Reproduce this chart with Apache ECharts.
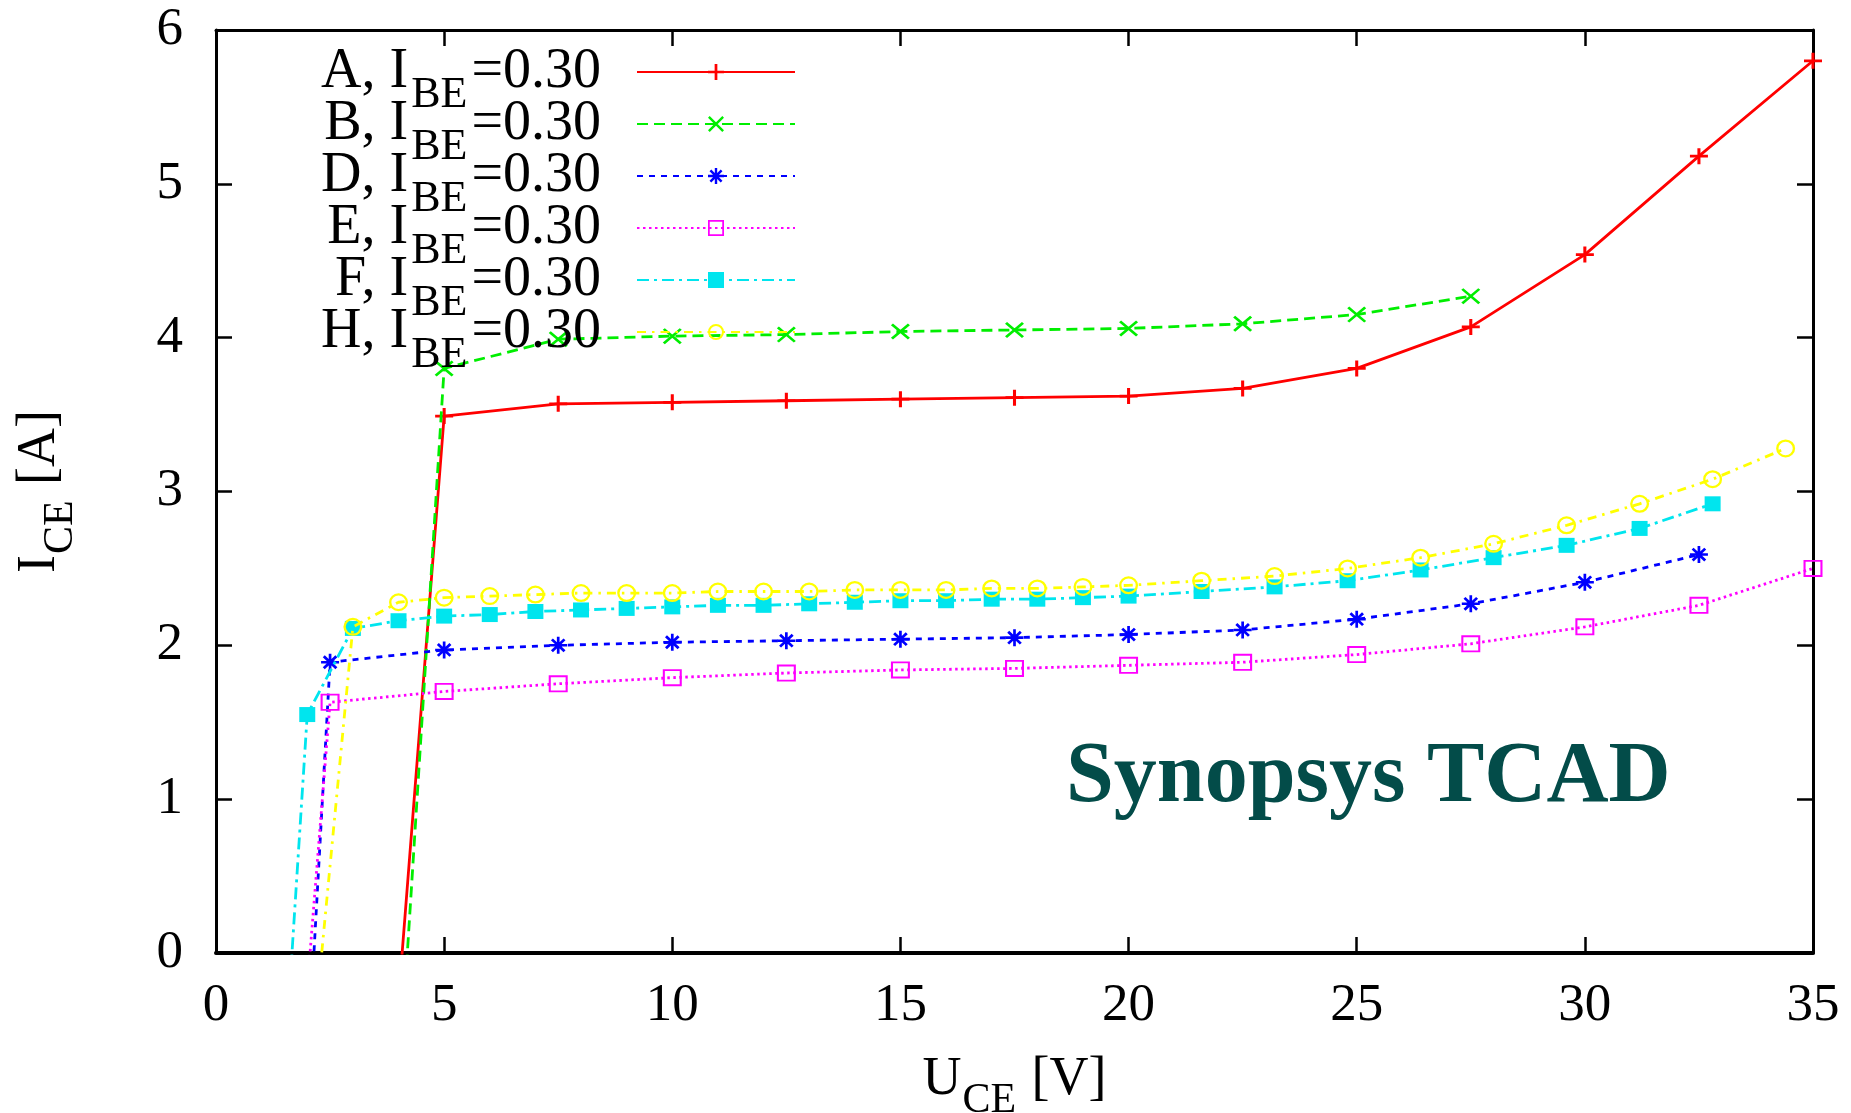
<!DOCTYPE html>
<html><head><meta charset="utf-8">
<script src="https://cdn.jsdelivr.net/npm/echarts@6/dist/echarts.min.js"></script>
<style>html,body{margin:0;padding:0;background:#fff}#c{width:1851px;height:1113px}</style>
</head><body><div id="c"></div>
<script>
const xTicks = [0, 5, 10, 15, 20, 25, 30, 35];
const yTicks = [0, 1, 2, 3, 4, 5, 6];
const seriesNames = ['A', 'B', 'D', 'E', 'F', 'H'];
const ibeLabel = '0.30';

const aX = [4.0, 5, 7.5, 10, 12.5, 15, 17.5, 20, 22.5, 25, 27.5, 30, 32.5, 35];
const aY = [-0.3, 3.49, 3.57, 3.58, 3.59, 3.60, 3.61, 3.62, 3.67, 3.80, 4.07, 4.54, 5.18, 5.80];
const bX = [4.13, 5, 7.5, 10, 12.5, 15, 17.5, 20, 22.5, 25, 27.5];
const bY = [-0.3, 3.80, 3.99, 4.01, 4.02, 4.04, 4.05, 4.06, 4.09, 4.15, 4.27];
const dX = [2.09, 2.5, 5, 7.5, 10, 12.5, 15, 17.5, 20, 22.5, 25, 27.5, 30, 32.5];
const dY = [-0.3, 1.89, 1.97, 2.00, 2.02, 2.03, 2.04, 2.05, 2.07, 2.10, 2.17, 2.27, 2.41, 2.59];
const eX = [1.98, 2.5, 5, 7.5, 10, 12.5, 15, 17.5, 20, 22.5, 25, 27.5, 30, 32.5, 35];
const eY = [-0.3, 1.63, 1.70, 1.75, 1.79, 1.82, 1.84, 1.85, 1.87, 1.89, 1.94, 2.01, 2.12, 2.26, 2.50];
const fX = [1.6, 2, 3, 4, 5, 6, 7, 8, 9, 10, 11, 12, 13, 14, 15, 16, 17, 18, 19, 20, 21.6, 23.2, 24.8, 26.4, 28, 29.6, 31.2, 32.8];
const fY = [-0.3, 1.55, 2.11, 2.16, 2.19, 2.20, 2.22, 2.23, 2.24, 2.25, 2.26, 2.26, 2.27, 2.28, 2.29, 2.29, 2.30, 2.30, 2.31, 2.32, 2.35, 2.38, 2.42, 2.49, 2.57, 2.65, 2.76, 2.92];
const hX = [2.22, 3, 4, 5, 6, 7, 8, 9, 10, 11, 12, 13, 14, 15, 16, 17, 18, 19, 20, 21.6, 23.2, 24.8, 26.4, 28, 29.6, 31.2, 32.8, 34.4];
const hY = [-0.3, 2.12, 2.28, 2.31, 2.32, 2.33, 2.34, 2.34, 2.34, 2.35, 2.35, 2.35, 2.36, 2.36, 2.36, 2.37, 2.37, 2.38, 2.39, 2.42, 2.45, 2.50, 2.57, 2.66, 2.78, 2.92, 3.08, 3.28];

const FONT = '"Liberation Serif", "Times New Roman", serif';

const SYM_PLUS = 'path://M-1.7,-10 L1.7,-10 L1.7,-1.7 L10,-1.7 L10,1.7 L1.7,1.7 L1.7,10 L-1.7,10 L-1.7,1.7 L-10,1.7 L-10,-1.7 L-1.7,-1.7 Z';
const SYM_CROSS = 'path://M-8.8,-11.2 L11.2,8.8 L8.8,11.2 L-11.2,-8.8 Z M-11.2,8.8 L8.8,-11.2 L11.2,-8.8 L-8.8,11.2 Z';
const SYM_STAR = 'path://M-1.5,-10 L1.5,-10 L1.5,-1.5 L10,-1.5 L10,1.5 L1.5,1.5 L1.5,10 L-1.5,10 L-1.5,1.5 L-10,1.5 L-10,-1.5 L-1.5,-1.5 Z M-5.9,-8.1 L8.1,5.9 L5.9,8.1 L-8.1,-5.9 Z M-8.1,5.9 L5.9,-8.1 L8.1,-5.9 L-5.9,8.1 Z';
const SYM_OSQ = 'path://M-10,-10 L10,-10 L10,10 L-10,10 Z M-7.8,-7.8 L-7.8,7.8 L7.8,7.8 L7.8,-7.8 Z';
const SYM_RING = 'path://M0,-10 A10,10 0 1,1 0,10 A10,10 0 1,1 0,-10 Z M0,-7.5 A7.5,7.5 0 1,0 0,7.5 A7.5,7.5 0 1,0 0,-7.5 Z';

function pts(xs, ys) { return xs.map((x, i) => [x, ys[i]]); }

const defs = [
  { x: aX, y: aY, color: '#ff0000', dash: 'solid', sym: SYM_PLUS, size: [18, 16] },
  { x: bX, y: bY, color: '#00ee00', dash: [11, 6], sym: SYM_CROSS, size: [19, 16] },
  { x: dX, y: dY, color: '#0000ff', dash: [6, 6], sym: SYM_STAR, size: [18, 17] },
  { x: eX, y: eY, color: '#ff00ff', dash: [2.5, 3.5], sym: SYM_OSQ, size: [19, 17] },
  { x: fX, y: fY, color: '#00e5ee', dash: [12, 5, 3, 5], sym: 'rect', size: [16, 15] },
  { x: hX, y: hY, color: '#ffff00', dash: [9, 6, 2.5, 6], sym: SYM_RING, size: [19, 18] }
];

const series = defs.map((d, i) => ({
  name: seriesNames[i],
  type: 'line',
  data: pts(d.x, d.y),
  symbol: d.sym,
  symbolSize: d.size,
  symbolKeepAspect: false,
  showSymbol: true,
  clip: true,
  color: d.color,
  lineStyle: { color: d.color, width: 2.8, type: d.dash },
  itemStyle: { color: d.color, borderWidth: 0 },
  emphasis: { disabled: true },
  animation: false,
  z: 2 + i
}));

const axisLineStyle = { color: '#000', width: 3 };
const tickStyle = { inside: true, length: 16, lineStyle: { color: '#000', width: 2.5 } };
const labelFont = { fontFamily: FONT, fontSize: 53, color: '#000' };
const subRich = {
  m: { fontFamily: FONT, fontSize: 54, color: '#000', lineHeight: 60 },
  s: { fontFamily: FONT, fontSize: 42, color: '#000', lineHeight: 60, padding: [42, 2, 0, 1] }
};

const option = {
  backgroundColor: '#ffffff',
  animation: false,
  grid: { left: 216, right: 38, top: 30, bottom: 160, containLabel: false, outerBoundsMode: 'none' },
  xAxis: [
    {
      type: 'value', min: xTicks[0], max: xTicks[xTicks.length - 1], interval: xTicks[1] - xTicks[0],
      position: 'bottom',
      axisLine: { show: true, onZero: false, lineStyle: { color: '#000', width: 4 } },
      axisTick: tickStyle,
      axisLabel: Object.assign({ margin: 27 }, labelFont),
      splitLine: { show: false },
      name: '{m|U}{s|CE}{m| [V]}', nameLocation: 'middle', nameGap: 96,
      nameTextStyle: { rich: subRich }
    },
    {
      type: 'value', min: xTicks[0], max: xTicks[xTicks.length - 1], interval: xTicks[1] - xTicks[0],
      position: 'top',
      axisLine: { show: true, onZero: false, lineStyle: axisLineStyle },
      axisTick: tickStyle, axisLabel: { show: false }, splitLine: { show: false }
    }
  ],
  yAxis: [
    {
      type: 'value', min: yTicks[0], max: yTicks[yTicks.length - 1], interval: yTicks[1] - yTicks[0],
      position: 'left',
      axisLine: { show: true, onZero: false, lineStyle: axisLineStyle },
      axisTick: tickStyle,
      axisLabel: Object.assign({ margin: 33 }, labelFont),
      splitLine: { show: false },
      name: '{m|I}{s|CE}{m| [A]}', nameLocation: 'middle', nameGap: 146, nameRotate: 90,
      nameTextStyle: { rich: subRich }
    },
    {
      type: 'value', min: yTicks[0], max: yTicks[yTicks.length - 1], interval: yTicks[1] - yTicks[0],
      position: 'right',
      axisLine: { show: true, onZero: false, lineStyle: axisLineStyle },
      axisTick: tickStyle, axisLabel: { show: false }, splitLine: { show: false }
    }
  ],
  legend: {
    orient: 'vertical',
    align: 'right',
    right: 1055,
    top: 27,
    padding: 0,
    itemGap: -38,
    itemWidth: 158,
    itemHeight: 20,
    selectedMode: false,
    data: seriesNames,
    formatter: function (n) { return '{m|' + n + ', I}{s|BE}{e|=' + ibeLabel + '}'; },
    textStyle: {
      rich: {
        m: { fontFamily: FONT, fontSize: 56, color: '#000', lineHeight: 52 },
        s: { fontFamily: FONT, fontSize: 44, color: '#000', lineHeight: 52, padding: [46, 4, 0, 3] },
        e: { fontFamily: FONT, fontSize: 56, color: '#000', lineHeight: 52, padding: [0, 31, 0, 0] }
      }
    }
  },
  graphic: [
    {
      type: 'text', left: 1066, top: 736, z: 100,
      style: { text: 'Synopsys TCAD', fontFamily: FONT, fontSize: 86, fontWeight: 'bold', fill: '#034c49' }
    }
  ],
  series: series
};

const chart = echarts.init(document.getElementById('c'), null, { renderer: 'canvas' });
chart.setOption(option);
</script>
</body></html>
